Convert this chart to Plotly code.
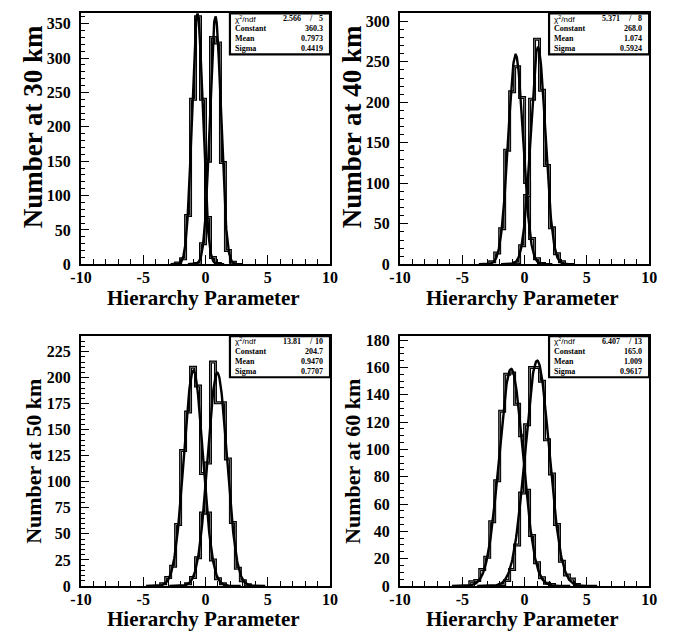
import numpy as np
import plotly.graph_objects as go

# ---------------------------------------------------------------- data
DISTANCES = ["30", "40", "50", "60"]
BIN_WIDTH = 0.4          # 50 bins on [-10, 10]

# inverted-hierarchy histograms: low edge of first filled bin, then bin counts
NEG_START = [-2.4, -2.8, -3.6, -4.4]
NEG_COUNTS = [
    [2, 8, 71, 240, 360, 240, 68, 10, 1],
    [3, 14, 44, 141, 213, 244, 206, 101, 32, 7, 1],
    [2, 8, 19, 59, 130, 167, 210, 192, 108, 70, 25, 7, 2],
    [3, 4, 12, 21, 47, 77, 128, 155, 156, 133, 110, 70, 37, 17, 6, 2, 1],
]

# normal-hierarchy histograms
POS_START = [-0.8, -0.8, -1.6, -2.0]
POS_COUNTS = [
    [1, 30, 150, 330, 322, 148, 20, 3],
    [2, 23, 85, 204, 278, 215, 122, 45, 13, 3],
    [2, 8, 27, 70, 118, 215, 176, 176, 122, 61, 17, 5, 1],
    [1, 4, 12, 30, 68, 118, 160, 160, 150, 107, 82, 45, 18, 8, 5, 1],
]

# gaussian fit of the normal-hierarchy histogram (stat box values)
FIT_CHI2 = ["2.566", "5.371", "13.81", "6.407"]
FIT_NDF = ["5", "8", "10", "13"]
FIT_CONST = ["360.3", "268.0", "204.7", "165.0"]
FIT_MEAN = ["0.7973", "1.074", "0.9470", "1.009"]
FIT_SIGMA = ["0.4419", "0.5924", "0.7707", "0.9617"]

# gaussian fit of the inverted-hierarchy histogram
NEG_FIT_CONST = [365.0, 259.0, 207.0, 159.0]
NEG_FIT_MEAN = [-0.65, -0.72, -0.97, -1.08]
NEG_FIT_SIGMA = [0.43, 0.59, 0.76, 0.95]

Y_MAX = [365, 310, 240, 183]
Y_DTICK = [50, 50, 25, 20]
Y_MINOR = [10, 10, 5, 5]

X_TITLE = "Hierarchy Parameter"

# ---------------------------------------------------------------- layout helpers
W, H = 673, 639
SERIF = "Liberation Serif"


def fx(px):
    return px / W


def fy(py):
    return 1 - py / H


# pad frames in pixels: left, right, top, bottom
FRAMES = [
    (72, 328.3, 9.5, 265.7),
    (400.3, 656.7, 9.5, 265.7),
    (72, 328.3, 339, 594),
    (400.3, 656.7, 339, 594),
]
Y_TITLE_SIZE = [27, 27, 22, 22]


def hist_outline(start, counts):
    xs, ys = [start], [0]
    for k, v in enumerate(counts):
        lo = start + k * BIN_WIDTH
        xs += [lo, lo + BIN_WIDTH]
        ys += [v, v]
    xs.append(start + len(counts) * BIN_WIDTH)
    ys.append(0)
    return xs, ys


def gauss_curve(c, m, s):
    x = np.linspace(m - 5 * s, m + 5 * s, 240)
    return x, c * np.exp(-0.5 * ((x - m) / s) ** 2)


fig = go.Figure()
shapes, annots = [], []

for i in range(4):
    xa, ya = f"x{i + 1}", f"y{i + 1}"
    L, R, T, B = FRAMES[i]

    for start, counts in ((NEG_START[i], NEG_COUNTS[i]), (POS_START[i], POS_COUNTS[i])):
        hx, hy = hist_outline(start, counts)
        fig.add_trace(go.Scatter(x=hx, y=hy, mode="lines", xaxis=xa, yaxis=ya,
                                 line=dict(color="black", width=3.0),
                                 hoverinfo="skip", showlegend=False))
        fig.add_trace(go.Scatter(x=hx, y=hy, mode="lines", xaxis=xa, yaxis=ya,
                                 line=dict(color="#7a7a7a", width=0.9),
                                 hoverinfo="skip", showlegend=False))

    fits = [
        (NEG_FIT_CONST[i], NEG_FIT_MEAN[i], NEG_FIT_SIGMA[i]),
        (float(FIT_CONST[i]), float(FIT_MEAN[i]), float(FIT_SIGMA[i])),
    ]
    for c, m, s in fits:
        gx, gy = gauss_curve(c, m, s)
        fig.add_trace(go.Scatter(x=gx, y=gy, mode="lines", xaxis=xa, yaxis=ya,
                                 line=dict(color="black", width=2.4),
                                 hoverinfo="skip", showlegend=False))

    axis_common = dict(
        showgrid=False, zeroline=False, showline=True, mirror=True,
        linecolor="black", linewidth=2, ticks="inside", tickcolor="black",
        tickwidth=1.3,
        tickfont=dict(family=SERIF, size=16, color="black", weight="bold"),
    )
    key = "" if i == 0 else str(i + 1)
    fig.update_layout({
        f"xaxis{key}": dict(
            axis_common, domain=[fx(L), fx(R)], anchor=ya, range=[-10, 10],
            tickmode="array", tickvals=[-10, -5, 0, 5, 10],
            ticktext=["-10", "-5", "0", "5", "10"], ticklen=9,
            ticklabelstandoff=-2,
            minor=dict(dtick=1, ticklen=5, ticks="inside", tickcolor="black", tickwidth=1),
        ),
        f"yaxis{key}": dict(
            axis_common, domain=[fy(B), fy(T)], anchor=xa, range=[0, Y_MAX[i]],
            tick0=0, dtick=Y_DTICK[i], ticklen=8, ticklabelstandoff=5,
            minor=dict(dtick=Y_MINOR[i], ticklen=4, ticks="inside", tickcolor="black", tickwidth=1),
        ),
    })

    # axis titles
    annots.append(dict(text=X_TITLE, xref="paper", yref="paper",
                       x=fx((L + R) / 2 - 2), y=fy(B + 34), xanchor="center", yanchor="middle",
                       showarrow=False, font=dict(family=SERIF, size=21, color="black", weight="bold")))
    annots.append(dict(text=f"Number at {DISTANCES[i]} km", xref="paper", yref="paper",
                       x=fx(L - 49), y=fy(T + (116 if T < 100 else 128)), textangle=-90,
                       xanchor="center", yanchor="middle", showarrow=False,
                       font=dict(family=SERIF, size=Y_TITLE_SIZE[i], color="black", weight="bold")))

    # fit statistics box
    bl, br, bt, bb = R - 103, R, T, T + 42
    shapes.append(dict(type="rect", xref="paper", yref="paper",
                       x0=fx(bl), x1=fx(br), y0=fy(bb), y1=fy(bt),
                       line=dict(color="black", width=2.2), fillcolor="white", layer="above"))
    stat_font = dict(family=SERIF, size=8, color="black", weight="bold")
    rows = [("Constant", FIT_CONST[i]), ("Mean", FIT_MEAN[i]), ("Sigma", FIT_SIGMA[i])]
    annots.append(dict(text="χ<sup>2</sup>/ndf", xref="paper", yref="paper",
                       x=fx(bl + 3), y=fy(bt + 5.5), xanchor="left", yanchor="middle",
                       showarrow=False, font=dict(family="Liberation Sans", size=8, color="black")))
    annots.append(dict(text=FIT_CHI2[i], xref="paper", yref="paper",
                       x=fx(br - 28), y=fy(bt + 5.5), xanchor="right", yanchor="middle",
                       showarrow=False, font=stat_font))
    annots.append(dict(text="/", xref="paper", yref="paper",
                       x=fx(br - 20), y=fy(bt + 5.5), xanchor="center", yanchor="middle",
                       showarrow=False, font=stat_font))
    annots.append(dict(text=FIT_NDF[i], xref="paper", yref="paper",
                       x=fx(br - 5), y=fy(bt + 5.5), xanchor="right", yanchor="middle",
                       showarrow=False, font=stat_font))
    for r, (lab, val) in enumerate(rows):
        yy = fy(bt + 15.8 + r * 10.3)
        annots.append(dict(text=lab, xref="paper", yref="paper", x=fx(bl + 3), y=yy,
                           xanchor="left", yanchor="middle", showarrow=False, font=stat_font))
        annots.append(dict(text=val, xref="paper", yref="paper", x=fx(br - 5), y=yy,
                           xanchor="right", yanchor="middle", showarrow=False, font=stat_font))

fig.update_layout(
    width=W, height=H, autosize=False,
    margin=dict(l=0, r=0, t=0, b=0),
    paper_bgcolor="white", plot_bgcolor="white",
    shapes=shapes, annotations=annots, showlegend=False,
)

fig.write_html("out.html")
